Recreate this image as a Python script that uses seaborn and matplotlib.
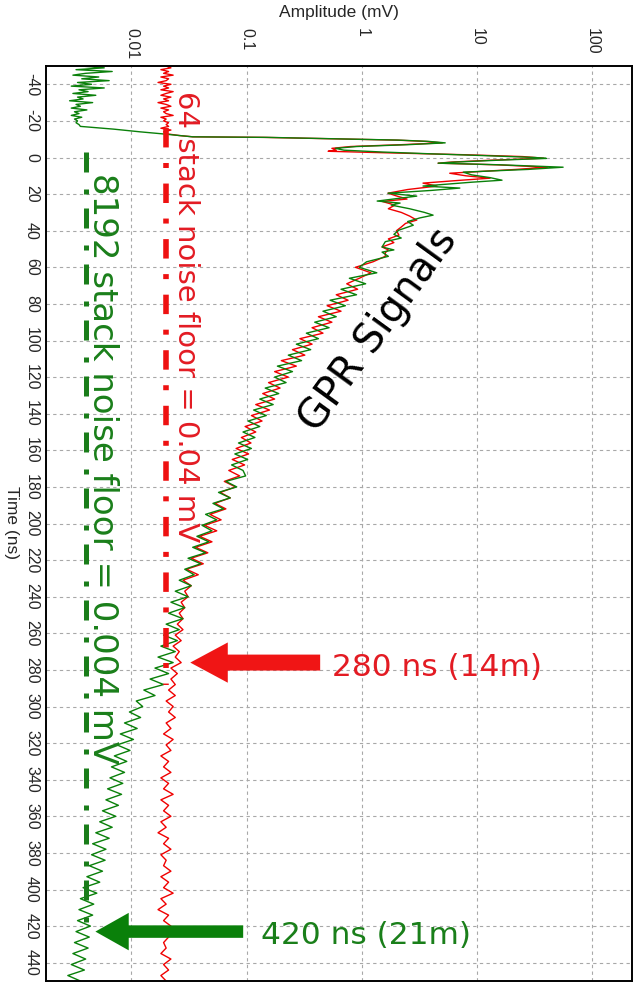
import numpy as np
import pandas as pd
import seaborn as sns
import matplotlib.pyplot as plt

# valores: tiempo en ns, amplitud en mV

# antes del disparo, 1 ns de paso (-50 .. -18)
pre_t = np.arange(-50, -17)
green_pre = [0.0036, 0.0058, 0.0033, 0.0068, 0.0040, 0.0031, 0.0052, 0.0037, 0.0064, 0.0034,
             0.0045, 0.0030, 0.0058, 0.0035, 0.0042, 0.0031, 0.0049, 0.0034, 0.0038, 0.0029,
             0.0046, 0.0033, 0.0036, 0.0030, 0.0041, 0.0032, 0.0035, 0.0030, 0.0037, 0.0032,
             0.0034, 0.0033, 0.0035]
red_pre = [0.020, 0.022, 0.018, 0.021, 0.019, 0.023, 0.018, 0.021, 0.020, 0.017,
           0.022, 0.019, 0.021, 0.018, 0.023, 0.020, 0.018, 0.022, 0.019, 0.021,
           0.017, 0.020, 0.022, 0.018, 0.021, 0.019, 0.020, 0.023, 0.018, 0.020,
           0.019, 0.021, 0.020]

# subida y picos principales
green_mid_t = [-17, -15.5, -14, -13, -12, -11.3, -11, -10.5, -9.5, -8.8,
               -8, -7, -6, -5, -4, -3, -2, -1, 0, 0.5,
               1.5, 2.5, 3.1, 4, 5.3, 6.5, 8, 9.5, 11, 12.4,
               13.5, 15.6, 16.7, 18, 19.5, 21.1, 22.5, 23.8, 24.9, 26,
               28, 30, 31.5, 33, 35, 37, 39.7, 42, 44, 46,
               48.9, 50.5, 51.7]
green_mid = [0.0036, 0.007, 0.012, 0.018, 0.026, 0.034, 0.15, 0.36, 2.1, 3.8,
             5.3, 2.5, 0.9, 0.59, 0.7, 1.5, 4.0, 12, 32, 40,
             15, 6.5, 4.6, 16, 56, 28, 7.6, 9, 13, 16.5,
             9, 3.4, 7.1, 4.0, 1.69, 3.0, 2.0, 1.36, 2.15, 1.8,
             2.6, 3.5, 4.16, 3.2, 2.5, 2.8, 2.1, 1.9, 2.2, 1.6,
             1.5, 1.9, 1.5]
red_mid_t = [-17, -16, -15, -14, -13, -12, -11.3, -11, -10.5, -9.5,
             -8.8, -8, -7, -6, -5, -4, -3.4, -2.5, -1.5, -0.5,
             0.4, 1.5, 2.5, 3.1, 4, 5.3, 6.5, 8.6, 10, 11.3,
             12.5, 14, 15.6, 17.5, 19.5, 21, 22.7, 24, 26, 28,
             30, 32, 34.2, 36, 38, 40, 42.4, 44.5, 46.5, 48.9,
             50.5, 52]
red_mid = [0.021, 0.018, 0.022, 0.019, 0.02, 0.026, 0.034, 0.14, 0.34, 2.0,
           3.6, 5.0, 2.2, 0.8, 0.55, 0.6, 0.51, 1.8, 8, 25,
           38, 13, 6, 4.6, 15, 41, 22, 5.8, 8, 13,
           7, 3.4, 4.5, 2.5, 1.69, 2.0, 2.47, 1.5, 1.94, 1.7,
           2.2, 2.6, 3.0, 2.4, 2.2, 2.0, 2.1, 1.7, 1.9, 1.5,
           1.7, 1.6]

# decaimiento, 3 ns de paso (54 .. 450)
tail_t = np.arange(54, 451, 3)
green_tail = [1.7, 1.1, 0.95, 1.35, 0.78, 1.08, 0.66, 0.9, 0.53, 0.72,
              0.46, 0.6, 0.39, 0.52, 0.33, 0.42, 0.27, 0.36, 0.23, 0.3,
              0.185, 0.25, 0.175, 0.22, 0.145, 0.19, 0.13, 0.17, 0.115, 0.148,
              0.103, 0.13, 0.093, 0.118, 0.085, 0.11, 0.079, 0.102, 0.074, 0.093,
              0.098, 0.066, 0.082, 0.057, 0.072, 0.051, 0.063, 0.044, 0.055, 0.041,
              0.05, 0.037, 0.047, 0.034, 0.044, 0.031, 0.04, 0.029, 0.035, 0.026,
              0.033, 0.024, 0.031, 0.022, 0.029, 0.021, 0.028, 0.02, 0.026, 0.019,
              0.025, 0.018, 0.024, 0.017, 0.023, 0.016, 0.021, 0.0145, 0.019, 0.0128,
              0.016, 0.011, 0.0125, 0.0096, 0.012, 0.0087, 0.0112, 0.008, 0.0104, 0.0075,
              0.0097, 0.0071, 0.0091, 0.0067, 0.0087, 0.0065, 0.0084, 0.0062, 0.0082, 0.006,
              0.0077, 0.0056, 0.0073, 0.0053, 0.0068, 0.0049, 0.0064, 0.0046, 0.006, 0.0045,
              0.0059, 0.0043, 0.0056, 0.0041, 0.0053, 0.0038, 0.005, 0.0036, 0.0047, 0.0035,
              0.0046, 0.0034, 0.0044, 0.0033, 0.0043, 0.0032, 0.0042, 0.0031, 0.004, 0.003,
              0.0039, 0.0028, 0.0036]
red_tail = [1.6, 1.25, 0.88, 1.2, 0.95, 0.74, 0.92, 0.6, 0.76, 0.5,
            0.66, 0.42, 0.55, 0.37, 0.46, 0.29, 0.37, 0.25, 0.32, 0.2,
            0.27, 0.175, 0.23, 0.155, 0.195, 0.138, 0.175, 0.12, 0.158, 0.11,
            0.136, 0.097, 0.12, 0.09, 0.109, 0.081, 0.104, 0.075, 0.096, 0.07,
            0.087, 0.064, 0.08, 0.059, 0.072, 0.053, 0.066, 0.048, 0.06, 0.043,
            0.055, 0.039, 0.05, 0.036, 0.046, 0.033, 0.042, 0.03, 0.038, 0.028,
            0.033, 0.029, 0.031, 0.027, 0.029, 0.026, 0.028, 0.025, 0.028, 0.024,
            0.027, 0.023, 0.026, 0.024, 0.027, 0.022, 0.025, 0.022, 0.024, 0.021,
            0.024, 0.02, 0.023, 0.021, 0.024, 0.02, 0.022, 0.019, 0.023, 0.02,
            0.022, 0.018, 0.021, 0.019, 0.022, 0.018, 0.021, 0.019, 0.023, 0.018,
            0.021, 0.019, 0.022, 0.018, 0.02, 0.017, 0.021, 0.019, 0.022, 0.018,
            0.02, 0.019, 0.022, 0.018, 0.021, 0.019, 0.023, 0.018, 0.02, 0.017,
            0.021, 0.019, 0.022, 0.018, 0.021, 0.019, 0.02, 0.018, 0.022, 0.019,
            0.021, 0.018, 0.02]

# pisos de ruido (mV) y tramo de tiempo donde se dibujan
floor_64 = 0.02
floor_8192 = 0.004
floor_64_t = [-16, 288]
floor_8192_t = [-3, 423]

amp_ticks = [0.01, 0.1, 1, 10, 100]
amp_labels = ['0.01', '0.1', '1', '10', '100']
time_ticks = list(range(-40, 441, 20))

RED = '#f00000'
GREEN = '#0a800a'

df = pd.concat([
    pd.DataFrame({'time': np.concatenate([pre_t, red_mid_t, tail_t]),
                  'amp': red_pre + red_mid + red_tail, 'stack': '64'}),
    pd.DataFrame({'time': np.concatenate([pre_t, green_mid_t, tail_t]),
                  'amp': green_pre + green_mid + green_tail, 'stack': '8192'}),
])

sns.set_theme(style='white')
plt.rcParams['font.family'] = ['Liberation Sans', 'DejaVu Sans']

W, H = 637, 989
fig = plt.figure(figsize=(W / 100, H / 100), dpi=100)
ax = fig.add_axes([46 / W, 1 - 981 / H, (632 - 46) / W, (981 - 66) / H])

sns.lineplot(data=df, x='amp', y='time', hue='stack', hue_order=['64', '8192'],
             palette={'64': RED, '8192': GREEN}, sort=False, estimator=None,
             linewidth=1.0, legend=False, ax=ax)

ax.set_xscale('log')
ax.set_xlim(0.00181, 222)
ax.set_ylim(450, -50)

# lineas de piso de ruido (raya-punto)
ax.plot([floor_64, floor_64], floor_64_t, color='#ee1111', lw=4,
        ls=(0, (3.5, 2.8, 0.9, 2.8)), solid_capstyle='butt', dash_capstyle='butt')
ax.plot([floor_8192, floor_8192], floor_8192_t, color='#1a7d1a', lw=3.6,
        ls=(0, (4, 3.4, 1, 2.8)), solid_capstyle='butt', dash_capstyle='butt')

# grid y ejes
ax.grid(True, which='major', color='#a8a8a8', ls=(0, (3, 3)), lw=0.8)
ax.minorticks_off()
ax.xaxis.tick_top()
ax.set_xticks(amp_ticks, amp_labels, rotation=-90, va='top', ha='center')
ax.set_yticks(time_ticks, [str(t) for t in time_ticks], rotation=-90, va='center', ha='right')
ax.tick_params(axis='x', length=0, pad=27.5, labelsize=11.5)
ax.tick_params(axis='y', length=0, pad=5, labelsize=11.5)
ax.set_xlabel('')
ax.set_ylabel('')
for s in ax.spines.values():
    s.set_visible(True)
    s.set_color('black')
    s.set_linewidth(1.4)

fig.text(339 / W, 1 - 13 / H, 'Amplitude (mV)', ha='center', va='center', fontsize=12.5)
fig.text(11 / W, 1 - 523 / H, 'Time (ns)', ha='center', va='center', fontsize=12.5, rotation=-90)

# flechas
ax.annotate('', xy=(0.0324, 276), xytext=(0.435, 276),
            arrowprops=dict(arrowstyle='simple,head_length=27,head_width=29,tail_width=11.5',
                            mutation_scale=1, color='#f01515', shrinkA=0, shrinkB=0, lw=0))
ax.annotate('', xy=(0.00486, 423), xytext=(0.0933, 423),
            arrowprops=dict(arrowstyle='simple,head_length=24,head_width=27,tail_width=9',
                            mutation_scale=1, color='#0a800a', shrinkA=0, shrinkB=0, lw=0))

# textos
big = ['DejaVu Sans']
fig.text(437 / W, 1 - 668 / H, '280 ns (14m)', ha='center', va='center',
         fontsize=22.5, color='#e31b23', family=big)
fig.text(366 / W, 1 - 935 / H, '420 ns (21m)', ha='center', va='center',
         fontsize=22.5, color='#1a7f1a', family=big)
fig.text(378 / W, 1 - 330 / H, 'GPR Signals', ha='center', va='center',
         fontsize=29, color='black', rotation=54, family=big)
fig.text(186 / W, 1 - 317 / H, '64 stack noise floor = 0.04 mV', ha='center', va='center',
         fontsize=21, color='#e31b23', rotation=-90, family=big)
fig.text(102 / W, 1 - 469 / H, '8192 stack noise floor = 0.004 mV', ha='center', va='center',
         fontsize=24.5, color='#1a7f1a', rotation=-90, family=big)

fig.savefig('out.png', dpi=100)
